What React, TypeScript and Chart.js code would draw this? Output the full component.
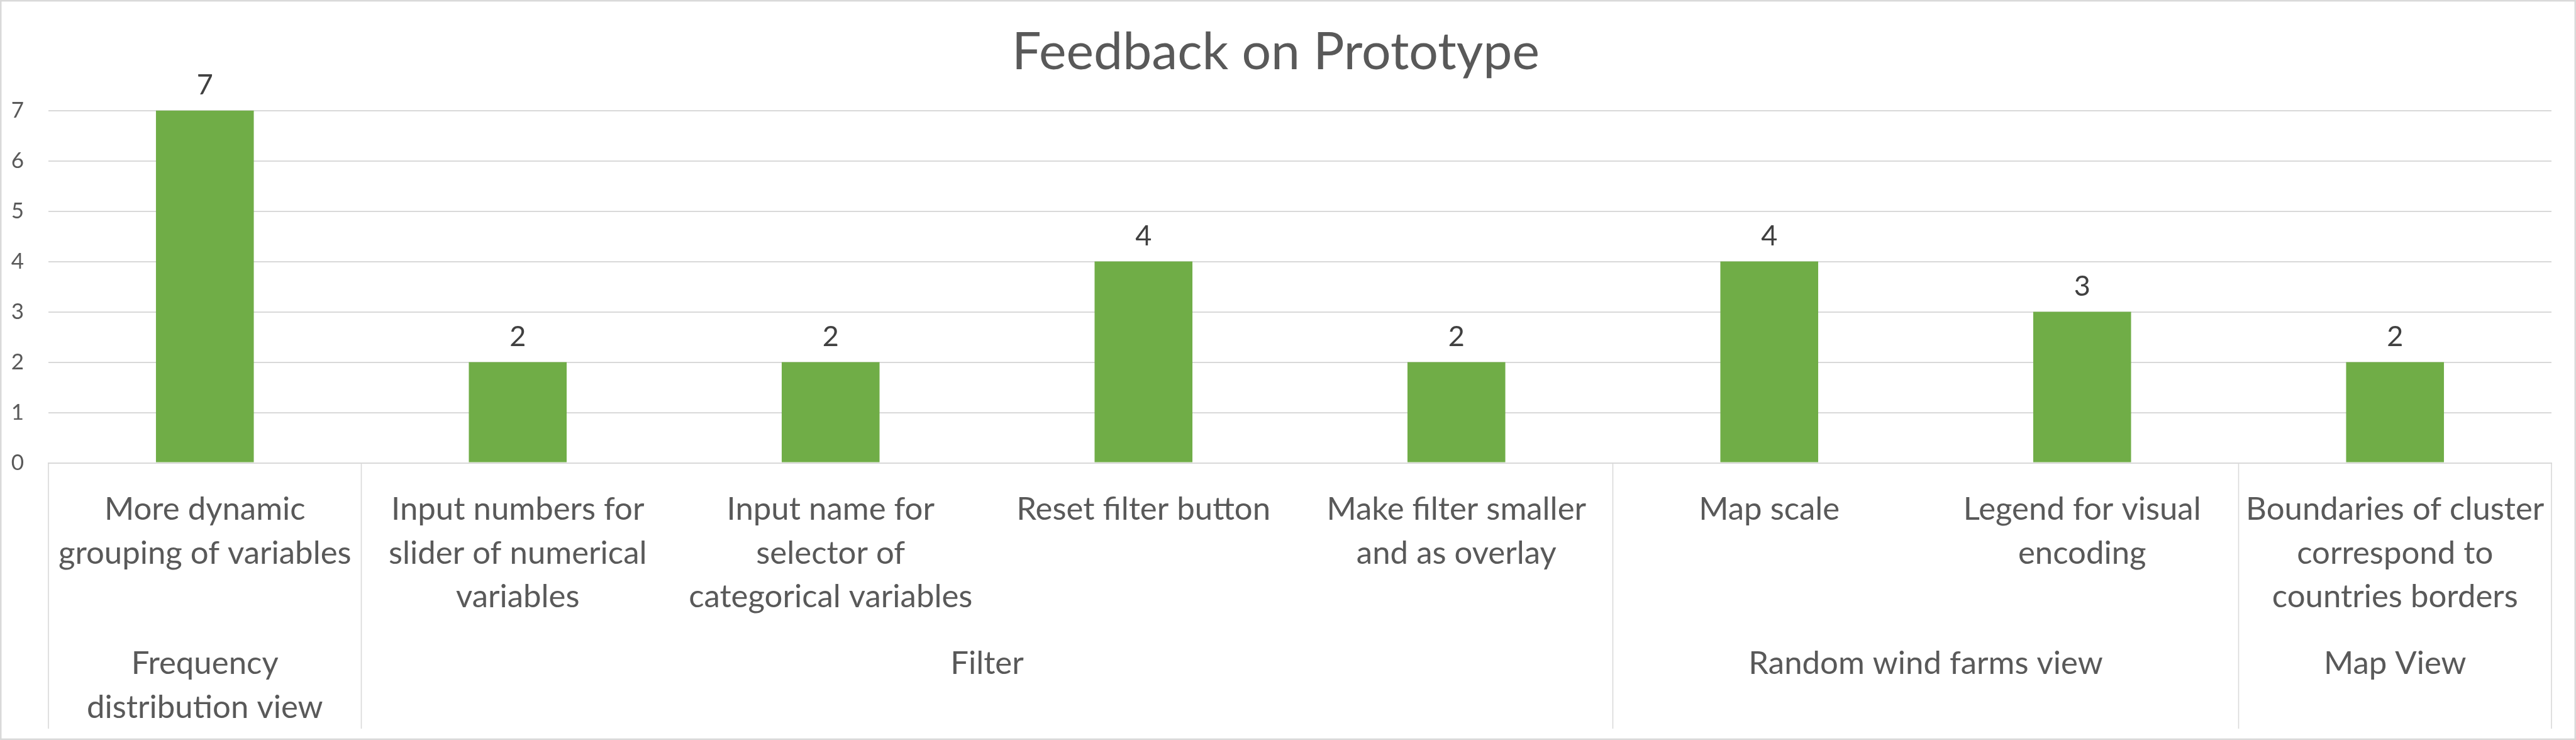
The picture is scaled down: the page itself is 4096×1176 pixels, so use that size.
import React, { useEffect, useRef } from "react";
import { Chart, registerables } from "chart.js";

Chart.register(...registerables);

// ---- data ----
const TITLE = "Feedback on Prototype";
const categories: string[][] = [
  ["More dynamic", "grouping of variables"],
  ["Input numbers for", "slider of numerical", "variables"],
  ["Input name for", "selector of", "categorical variables"],
  ["Reset filter button"],
  ["Make filter smaller", "and as overlay"],
  ["Map scale"],
  ["Legend for visual", "encoding"],
  ["Boundaries of cluster", "correspond to", "countries borders"],
];
const values: number[] = [7, 2, 2, 4, 2, 4, 3, 2];
const groupLabels: string[][] = [
  ["Frequency", "distribution view"],
  ["Filter"],
  ["Random wind farms view"],
  ["Map View"],
];
const groupSizes: number[] = [1, 4, 2, 1];
const yMin = 0;
const yMax = 7;
const yStep = 1;

// ---- style ----
const FAMILY = "Lato, 'Liberation Sans', Arial, sans-serif";
const BAR_COLOR = "#70AD47";
const TEXT_COLOR = "#595959";
const LABEL_COLOR = "#404040";
const GRID_COLOR = "#D9D9D9";

export default function App() {
  const ref = useRef<HTMLCanvasElement | null>(null);

  useEffect(() => {
    const canvas = ref.current;
    if (!canvas) return;
    const W = 4096;
    const H = 1176;
    const plotLeft = 77;
    const plotRight = 4057;
    const plotTop = 175.5;
    const plotBottom = 735.6;

    const mctx = document.createElement("canvas").getContext("2d")!;
    const widthAt100 = (t: string) => {
      mctx.font = `100px ${FAMILY}`;
      return mctx.measureText(t).width;
    };
    const capRatio = 0.7165;
    const titleSize = 0.85 * (100 * 844 / widthAt100(TITLE)) + 0.15 * (57 / capRatio);
    const catW =
      (100 * 481 / widthAt100(categories[0][1]) + 100 * 417 / widthAt100(categories[3][0])) / 2;
    const catSize = (catW + 35.3 / capRatio) / 2;
    const LH = 69.8;
    const mid = 0.3;
    const tickPad = 824.6 - mid * catSize - LH / 2 - plotBottom;
    const titleMiddle = 108.5 - mid * titleSize;
    const titlePadTop = titleMiddle - 0.6 * titleSize;
    const titlePadBottom = plotTop - titlePadTop - 1.2 * titleSize;
    const dataSize = 45;
    const tickSize = 35;

    const framePlugin = {
      id: "frame",
      beforeDraw(chart: any) {
        const ctx = chart.ctx;
        ctx.save();
        ctx.fillStyle = "#ffffff";
        ctx.fillRect(0, 0, W, H);
        ctx.restore();
      },
      afterDraw(chart: any) {
        const ctx = chart.ctx;
        const xs = chart.scales.x;
        ctx.save();
        // group dividers and labels
        ctx.strokeStyle = GRID_COLOR;
        ctx.lineWidth = 1.6;
        let start = 0;
        const edges: number[] = [xs.getPixelForValue(-0.5)];
        groupSizes.forEach((n) => {
          start += n;
          edges.push(xs.getPixelForValue(start - 0.5));
        });
        edges.forEach((x) => {
          ctx.beginPath();
          ctx.moveTo(x, plotBottom);
          ctx.lineTo(x, 1158);
          ctx.stroke();
        });
        ctx.fillStyle = TEXT_COLOR;
        ctx.font = `${catSize}px ${FAMILY}`;
        ctx.textAlign = "center";
        ctx.textBaseline = "alphabetic";
        groupLabels.forEach((lines, gi) => {
          const cx = (edges[gi] + edges[gi + 1]) / 2;
          lines.forEach((line, li) => {
            ctx.fillText(line, cx, 1071.4 + li * LH);
          });
        });
        // outer border
        ctx.strokeStyle = GRID_COLOR;
        ctx.lineWidth = 2.5;
        ctx.strokeRect(1.25, 1.25, W - 2.5, H - 2.5);
        ctx.restore();
      },
      afterDatasetsDraw(chart: any) {
        const ctx = chart.ctx;
        const meta = chart.getDatasetMeta(0);
        ctx.save();
        ctx.fillStyle = LABEL_COLOR;
        ctx.font = `${dataSize}px ${FAMILY}`;
        ctx.textAlign = "center";
        ctx.textBaseline = "alphabetic";
        meta.data.forEach((bar: any, i: number) => {
          ctx.fillText(String(values[i]), bar.x, bar.y - 26);
        });
        ctx.restore();
      },
    };

    const chart = new Chart(canvas, {
      type: "bar",
      data: {
        labels: categories,
        datasets: [
          {
            data: values,
            backgroundColor: BAR_COLOR,
            borderWidth: 0,
            barPercentage: 0.3127,
            categoryPercentage: 1,
          },
        ],
      },
      options: {
        responsive: false,
        animation: false,
        devicePixelRatio: 1,
        layout: { padding: { left: 0, right: W - plotRight, top: 0, bottom: 0 } },
        plugins: {
          legend: { display: false },
          tooltip: { enabled: false },
          title: {
            display: true,
            text: TITLE,
            color: TEXT_COLOR,
            font: { family: FAMILY, size: titleSize, weight: "normal", lineHeight: 1.2 },
            padding: { top: titlePadTop, bottom: titlePadBottom },
          },
        },
        scales: {
          x: {
            type: "category",
            grid: { display: false, drawTicks: false },
            border: { display: true, color: GRID_COLOR, width: 2 },
            ticks: {
              color: TEXT_COLOR,
              font: { family: FAMILY, size: catSize, lineHeight: LH / catSize },
              padding: tickPad,
              maxRotation: 0,
              minRotation: 0,
              autoSkip: false,
            },
            afterFit: (scale: any) => {
              scale.height = H - plotBottom;
            },
          },
          y: {
            min: yMin,
            max: yMax,
            grid: { color: GRID_COLOR, lineWidth: 2, drawTicks: false },
            border: { display: false },
            ticks: {
              stepSize: yStep,
              color: TEXT_COLOR,
              font: { family: FAMILY, size: tickSize },
              padding: plotLeft - 38,
            },
            afterFit: (scale: any) => {
              scale.width = plotLeft;
            },
          },
        },
      },
      plugins: [framePlugin],
    } as any);

    return () => chart.destroy();
  }, []);

  return (
    <div style={{ position: "fixed", left: 0, top: 0, width: 4096, height: 1176, background: "#fff" }}>
      <canvas ref={ref} width={4096} height={1176} style={{ display: "block", width: 4096, height: 1176 }} />
    </div>
  );
}
